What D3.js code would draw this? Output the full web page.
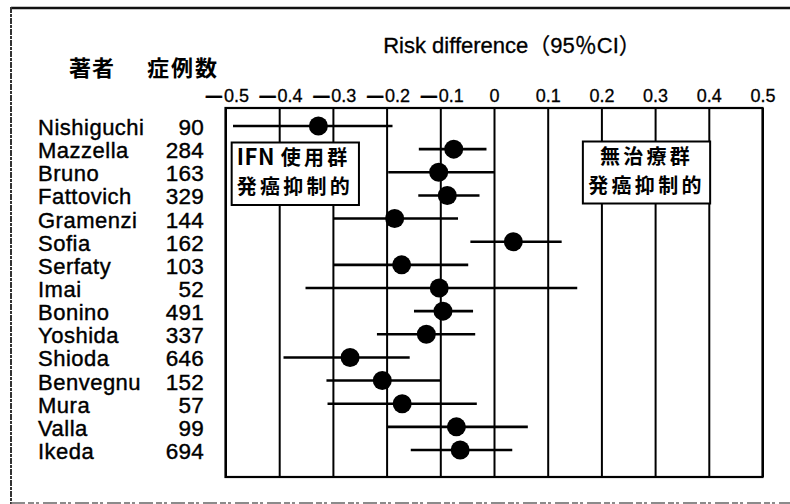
<!DOCTYPE html>
<html>
<head>
<meta charset="utf-8">
<script src="https://cdn.jsdelivr.net/npm/d3@7"></script>
<style>
  html, body { margin: 0; padding: 0; background: #fff; }
  svg { display: block; }
  .lat { font-family: "Liberation Sans", Arial, "Noto Sans CJK JP", sans-serif; }
  .cjk { font-family: "Noto Sans CJK JP", sans-serif; }
</style>
</head>
<body>
<svg id="chart" width="790" height="504"></svg>
<script>
// ---- data ----
const authors = ["Nishiguchi","Mazzella","Bruno","Fattovich","Gramenzi","Sofia","Serfaty","Imai","Bonino","Yoshida","Shioda","Benvegnu","Mura","Valla","Ikeda"];
const cases   = [90, 284, 163, 329, 144, 162, 103, 52, 491, 337, 646, 152, 57, 99, 694];
const riskDiff = [-0.327, -0.075, -0.103, -0.087, -0.185, 0.036, -0.172, -0.102, -0.095, -0.126, -0.268, -0.208, -0.171, -0.070, -0.063];
const ciLower  = [-0.486, -0.140, -0.197, -0.141, -0.298, -0.044, -0.298, -0.351, -0.149, -0.218, -0.392, -0.312, -0.310, -0.198, -0.155];
const ciUpper  = [-0.189, -0.014,  0.000, -0.027, -0.067,  0.126, -0.048,  0.155, -0.039, -0.035, -0.157, -0.100, -0.032,  0.063,  0.034];
const tickValues = [-0.5, -0.4, -0.3, -0.2, -0.1, 0, 0.1, 0.2, 0.3, 0.4, 0.5];
const tickLabels = ["−0.5","−0.4","−0.3","−0.2","−0.1","0","0.1","0.2","0.3","0.4","0.5"];
const axisTitle = "Risk difference（95％CI）";
const colHeaderAuthor = "著者";
const colHeaderCases = "症例数";
const leftNote = ["IFN 使用群", "発癌抑制的"];
const rightNote = ["無治療群", "発癌抑制的"];

const rows = authors.map((a, i) => ({ author: a, n: cases[i], rd: riskDiff[i], lo: ciLower[i], hi: ciUpper[i] }));

const svg = d3.select("#chart");
const W = 790, H = 504;
const plot = { left: 225.5, right: 762.5, top: 108, bottom: 477 };

const x = d3.scaleLinear().domain([-0.5, 0.5]).range([plot.left, plot.right]);
const y = d3.scalePoint().domain(authors).range([126, 450]);

svg.append("rect").attr("width", W).attr("height", H).attr("fill", "#fff");

// outer frame (scan border)
svg.append("line").attr("x1", 11).attr("x2", W).attr("y1", 8).attr("y2", 8)
  .attr("stroke", "#111").attr("stroke-width", 2.5);
svg.append("line").attr("x1", 11).attr("x2", 11).attr("y1", 7).attr("y2", 504)
  .attr("stroke", "#333").attr("stroke-width", 2).attr("stroke-dasharray", "6 1 3 1");
svg.append("line").attr("x1", 11).attr("x2", W).attr("y1", 503).attr("y2", 503)
  .attr("stroke", "#666").attr("stroke-width", 1.5).attr("stroke-dasharray", "14 3 6 2 3 4");

// gridlines
const grid = svg.append("g").attr("transform", `translate(0,${plot.bottom})`)
  .call(d3.axisBottom(x).tickValues(tickValues).tickSize(-(plot.bottom - plot.top)).tickFormat(""));
grid.select(".domain").remove();
grid.selectAll(".tick line").attr("stroke", "#000").attr("stroke-width", 2);

// frame of plot
svg.append("rect").attr("x", plot.left).attr("y", plot.top)
  .attr("width", plot.right - plot.left).attr("height", plot.bottom - plot.top)
  .attr("fill", "none").attr("stroke", "#000").attr("stroke-width", 2.2);

// top axis tick labels
const ax = svg.append("g").attr("transform", `translate(0,${plot.top})`)
  .call(d3.axisTop(x).tickValues(tickValues).tickSize(0).tickPadding(6)
    .tickFormat((d, i) => tickLabels[i]));
ax.select(".domain").remove();
ax.selectAll("text").attr("font-family", null).attr("class", "lat")
  .attr("font-size", 18).attr("fill", "#000").attr("stroke", "#000").attr("stroke-width", 0.3)
  .each(function(d, i) {
    const t = d3.select(this);
    const lab = tickLabels[i];
    t.text(null);
    if (lab.startsWith("−")) {
      t.append("tspan").attr("font-family", "DejaVu Sans").attr("font-size", 26).attr("dy", 2.5).text("−");
      t.append("tspan").attr("dy", -2.5).attr("dx", -1).text(lab.slice(1));
    } else {
      t.text(lab);
    }
  });

// axis title
svg.append("text").attr("class", "lat").attr("x", 512).attr("y", 53)
  .attr("text-anchor", "middle").attr("font-size", 22).attr("fill", "#000")
  .attr("stroke", "#000").attr("stroke-width", 0.3)
  .text(axisTitle);

// column headers
svg.append("text").attr("class", "cjk").attr("x", 69).attr("y", 76)
  .attr("font-size", 22).attr("font-weight", 700).attr("letter-spacing", 1).text(colHeaderAuthor);
svg.append("text").attr("class", "cjk").attr("x", 147).attr("y", 76)
  .attr("font-size", 22).attr("font-weight", 700).attr("letter-spacing", 2).text(colHeaderCases);

// annotation boxes
function noteBox(x0, x1, y0, y1, lines, anchor) {
  svg.append("rect").attr("x", x0).attr("y", y0).attr("width", x1 - x0).attr("height", y1 - y0)
    .attr("fill", "#fff").attr("stroke", "#000").attr("stroke-width", 2);
  const tx = anchor === "start" ? x0 + 5 : (x0 + x1) / 2;
  lines.forEach((l, i) => {
    const t = svg.append("text").attr("class", "cjk")
      .attr("x", tx).attr("y", y0 + 22.5 + i * 29.2)
      .attr("text-anchor", anchor)
      .attr("font-size", 20).attr("font-weight", 700);
    // split into latin and CJK runs; CJK runs are spaced wider like the original
    const runs = l.match(/[\x00-\x7F]+|[^\x00-\x7F]+/g);
    runs.forEach(r => {
      const ascii = /^[\x00-\x7F]+$/.test(r);
      t.append("tspan")
        .attr("font-size", ascii ? 22 : 20)
        .attr("letter-spacing", ascii ? 0.6 : 3.3)
        .text(r);
    });
  });
}
noteBox(x(-0.4885), x(-0.2515), 142.5, 205, leftNote, "start");
noteBox(x(0.1655), x(0.4025), 141.5, 203.5, rightNote, "middle");

// row labels
const lab = svg.append("g");
lab.selectAll("text.author").data(rows).join("text")
  .attr("class", "lat author").attr("x", 38).attr("y", d => y(d.author) + 9)
  .attr("font-size", 22).attr("letter-spacing", 0.5).attr("fill", "#000")
  .attr("stroke", "#000").attr("stroke-width", 0.4)
  .text(d => d.author);
lab.selectAll("text.cases").data(rows).join("text")
  .attr("class", "lat cases").attr("x", 204).attr("y", d => y(d.author) + 9)
  .attr("text-anchor", "end").attr("font-size", 22.5).attr("letter-spacing", 0.2).attr("fill", "#000")
  .attr("stroke", "#000").attr("stroke-width", 0.4)
  .text(d => d.n);

// CI lines and points
const marks = svg.append("g");
marks.selectAll("line.ci").data(rows).join("line")
  .attr("class", "ci")
  .attr("x1", d => x(d.lo)).attr("x2", d => x(d.hi))
  .attr("y1", d => y(d.author)).attr("y2", d => y(d.author))
  .attr("stroke", "#000").attr("stroke-width", 2.6);
marks.selectAll("circle.pt").data(rows).join("circle")
  .attr("class", "pt")
  .attr("cx", d => x(d.rd)).attr("cy", d => y(d.author)).attr("r", 9.5)
  .attr("fill", "#000");
</script>
</body>
</html>
